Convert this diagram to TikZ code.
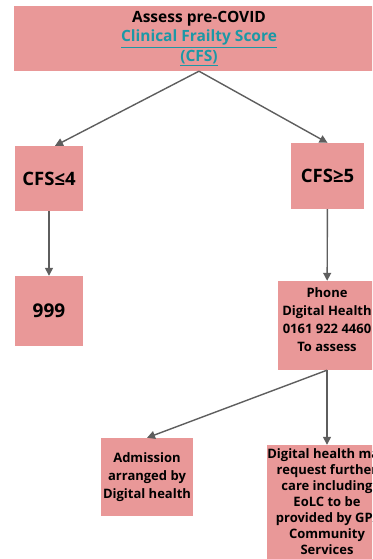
\documentclass[tikz,border=0pt]{standalone}
\usepackage{fontspec}
\setmainfont{Open Sans}
\usetikzlibrary{arrows.meta,positioning}
\definecolor{boxpink}{HTML}{E99898}
\definecolor{linkteal}{HTML}{1C98A6}
\definecolor{arrgray}{HTML}{5E5E5E}

\begin{document}
\begin{tikzpicture}[x=1pt,y=1pt,
    box/.style={fill=boxpink,align=center,inner sep=0pt,font=\bfseries},
    arr/.style={arrgray,line width=1.4pt,-{Triangle[length=8pt,width=8pt]}}]

  % ---- page frame -------------------------------------------------
  \useasboundingbox (0,0) rectangle (372,-559);
  \clip (0,0) rectangle (372,-559);

  % ---- boxes ------------------------------------------------------
  \node[box,minimum width=370,minimum height=65,font=\bfseries\fontsize{15.5}{19.5}\selectfont]
    (assess) at (199,-38.5)
    {Assess pre-COVID\\
     \textcolor{linkteal}{\underline{Clinical Frailty Score}}\\
     \textcolor{linkteal}{\underline{(CFS)}}};
  \node[box,minimum width=68,minimum height=65,font=\bfseries\fontsize{18.5}{22}\selectfont]
    (low) at (49,-178.5) {CFS≤4};
  \node[box,minimum width=73,minimum height=66,font=\bfseries\fontsize{18.5}{22}\selectfont]
    (high) at (327.5,-176) {CFS≥5};
  \node[box,minimum width=68,minimum height=70,font=\bfseries\fontsize{19}{22}\selectfont]
    (nines) at (49,-311) {999};
  \node[box,minimum width=98,minimum height=89] (phone) at (327,-325.5) {};
  \node[align=center,inner sep=0pt,font=\bfseries\fontsize{13}{18}\selectfont]
    (phonetext) at ([yshift=6pt]phone.center)
    {Phone\\Digital Health\\0161 922 4460\\To assess};
  \node[box,minimum width=92,minimum height=78,font=\bfseries\fontsize{13}{18}\selectfont]
    (admit) at (147,-477)
    {Admission\\arranged by\\Digital health};
  \node[box,minimum width=118,minimum height=114,font=\bfseries\fontsize{13}{16}\selectfont]
    (further) at (327,-502)
    {Digital health may\\request further\\care including\\EoLC to be\\provided by GP/\\Community\\Services};

  % ---- connectors -------------------------------------------------
  \draw[arr] (assess.south) -- ([xshift=6pt]low.north);
  \draw[arr] (assess.south) -- (high.north);
  \draw[arr] (low) -- (nines);
  \draw[arr] (high) -- (phone);
  \draw[arr] (phone.south) -- (admit.north);
  \draw[arr] (phone.south) -- (further.north);

\end{tikzpicture}
\end{document}
